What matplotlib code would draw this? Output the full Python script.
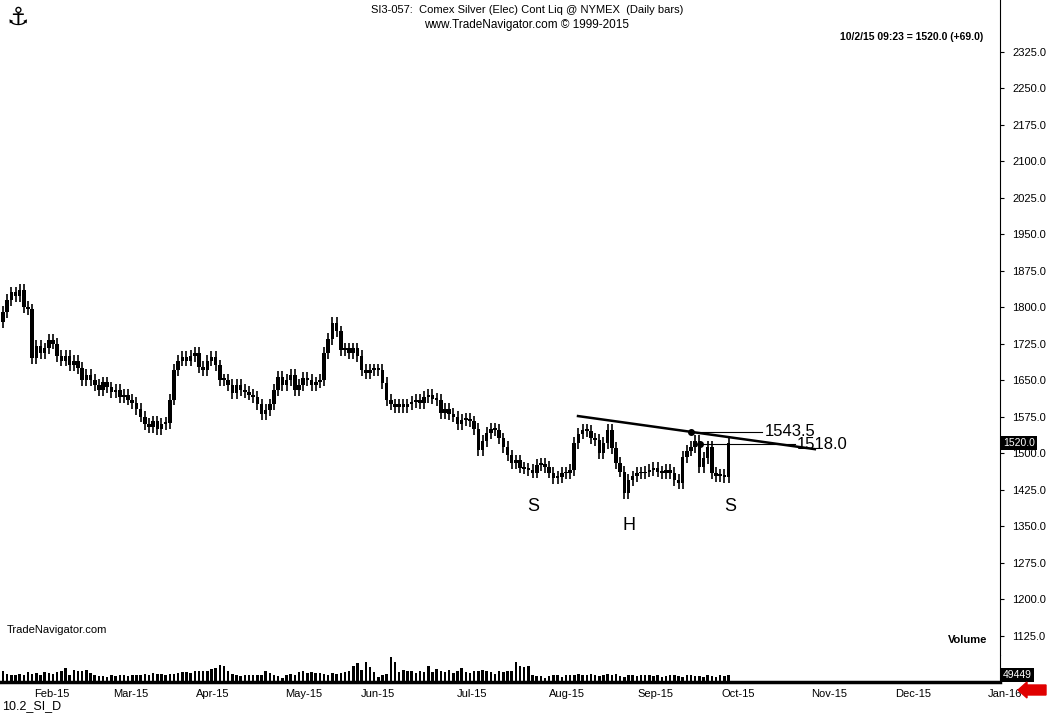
import matplotlib.pyplot as plt
from matplotlib.patches import FancyArrow

# daily closes (Jan 21 .. Oct 2 2015)
closes = [1790, 1815, 1830, 1822, 1835, 1800, 1795,
          1695, 1720, 1705, 1715, 1732,
          1725, 1700, 1690, 1700, 1680, 1690, 1675, 1650,
          1660, 1650, 1640, 1630,
          1645, 1635, 1625, 1630, 1615, 1620, 1610, 1603,
          1590, 1575, 1560, 1553,
          1565, 1550, 1560, 1562,
          1610, 1670, 1690, 1697,
          1690, 1700, 1705, 1677,
          1670, 1690, 1697,
          1680, 1650, 1650, 1640, 1623,
          1640, 1630, 1625, 1620, 1615,
          1600, 1580, 1588,
          1600, 1630, 1656,
          1640, 1650, 1660, 1630,
          1640, 1655, 1650,
          1640, 1645, 1650,
          1705, 1735, 1767,
          1750, 1712,
          1715, 1705, 1715, 1700, 1670,
          1665, 1670, 1672, 1670,
          1644, 1609,
          1600, 1595, 1600, 1595,
          1600, 1605, 1610, 1603,
          1615, 1620, 1612, 1609, 1582,
          1590, 1580, 1575, 1560, 1568,
          1570, 1565, 1550, 1506,
          1525, 1541, 1550, 1547,
          1530, 1512, 1495, 1479,
          1485, 1470, 1468, 1465,
          1460, 1475, 1478, 1471,
          1460, 1448, 1451,
          1460, 1458, 1465, 1520,
          1540, 1547,
          1545, 1530, 1527, 1500,
          1520, 1547,
          1510, 1479, 1462, 1418,
          1444, 1452, 1459,
          1458, 1462, 1465,
          1470, 1462, 1459,
          1465, 1459, 1445, 1438,
          1492, 1505, 1512,
          1525, 1471, 1490, 1512, 1459,
          1452, 1455, 1451, 1520]
opens = [1770] + closes[:-1]

# volume in thousands of contracts
volume = [14, 10, 9, 8, 10, 9, 12, 10, 11, 9, 12, 11, 10, 12, 13, 17, 9, 15, 14, 14, 15, 11, 8, 7,
          7, 6, 8, 7, 9, 8, 7, 8, 8, 9, 10, 9, 11, 10, 10, 9, 10, 10, 11, 12, 12, 11, 13, 14, 13, 14,
          16, 17, 21, 20, 14, 10, 8, 7, 8, 8, 9, 8, 9, 13, 11, 8, 7, 5, 9, 10, 9, 12, 13, 11, 12, 11,
          11, 10, 9, 11, 10, 11, 12, 14, 20, 23, 15, 24, 18, 12, 6, 8, 10, 31, 25, 12, 15, 13, 13, 11,
          14, 12, 20, 12, 16, 13, 12, 15, 11, 14, 17, 12, 11, 14, 13, 15, 13, 12, 10, 13, 12, 14, 13, 24,
          20, 18, 20, 8, 7, 7, 5, 7, 9, 8, 6, 8, 9, 8, 10, 9, 8, 10, 9, 7, 9, 10, 8, 10, 7, 6,
          9, 8, 7, 9, 8, 8, 7, 9, 6, 7, 8, 9, 7, 6, 8, 9, 7, 7, 6, 8, 7, 6, 9, 7, 8]
volume = volume[:len(closes)]

price_ticks = list(range(1125, 2326, 75))
months = ['Feb-15', 'Mar-15', 'Apr-15', 'May-15', 'Jun-15', 'Jul-15', 'Aug-15', 'Sep-15',
          'Oct-15', 'Nov-15', 'Dec-15', 'Jan-16']
month_pos = [11.8, 30.7, 50.4, 72.2, 89.9, 112.5, 135.3, 156.4, 176.3, 198.1, 218.2, 240.3]

W, H = 1054, 714
fig = plt.figure(figsize=(W / 100, H / 100), dpi=100)
plt.rcParams['font.family'] = ['Liberation Sans', 'DejaVu Sans']

XL = (-0.72, 239.1)
ax = fig.add_axes([0, 1 - 655 / H, 1000 / W, 655 / H])
vax = fig.add_axes([0, 1 - 682 / H, 1000 / W, 27 / H])

for i, (o, c) in enumerate(zip(opens, closes)):
    hi = max(o, c) + 12
    lo = min(o, c) - 12
    ax.plot([i, i], [lo, hi], color='black', lw=1.2, solid_capstyle='butt')
    body = max(abs(c - o), 4)
    ax.bar(i, body, bottom=min(o, c), width=0.85, color='black')
ax.set_xlim(*XL)
ax.set_ylim(1085, 2431)
ax.set_xticks([])
ax.yaxis.tick_right()
ax.set_yticks(price_ticks)
ax.set_yticklabels([f'{p:.1f}' for p in price_ticks], fontsize=8)
ax.tick_params(axis='y', length=3, pad=6)
for s in ['top', 'left', 'bottom']:
    ax.spines[s].set_visible(False)

# neckline and levels
ax.plot([137.9, 194.7], [1576, 1508], color='black', lw=1.8)
ax.plot([165.1, 182], [1543.5, 1543.5], color='black', lw=0.8)
ax.plot([167.1, 190], [1518, 1518], color='black', lw=0.8)
ax.plot([165.1, 167.1], [1543.5, 1518], 'o', color='black', ms=4)
ax.text(182.7, 1543.5, '1543.5', fontsize=12, va='center')
ax.text(190.4, 1518, '1518.0', fontsize=12, va='center')
ax.text(127.1, 1391, 'S', fontsize=13, ha='center', va='center')
ax.text(150.1, 1352, 'H', fontsize=13, ha='center', va='center')
ax.text(174.3, 1391, 'S', fontsize=13, ha='center', va='center')
ax.text(1, 1130, 'TradeNavigator.com', fontsize=8)
ax.text(236, 1110, 'Volume', fontsize=8, fontweight='bold', ha='right')
ax.text(1.003, (1520 - 1085) / (2431 - 1085), '1520.0', transform=ax.transAxes, fontsize=7.5,
        color='white', va='center', bbox=dict(facecolor='black', edgecolor='none', pad=1.5))

vax.bar(range(len(volume)), volume, width=0.6, color='black')
vax.set_xlim(*XL)
vax.set_ylim(0, 33)
vax.set_yticks([])
vax.set_xticks([])
for s in ['top', 'left']:
    vax.spines[s].set_visible(False)
vax.spines['bottom'].set_linewidth(2.5)
vax.text(1.003, 0.25, '49449', transform=vax.transAxes, fontsize=7.5, color='white', va='center',
         bbox=dict(facecolor='black', edgecolor='none', pad=1.5))
for lab, p in zip(months, month_pos):
    vax.text(p, -0.25, lab, fontsize=8, ha='center', va='top',
             transform=vax.get_xaxis_transform(), clip_on=False)

fig.text(0.5, 1 - 10 / H, 'SI3-057:  Comex Silver (Elec) Cont Liq @ NYMEX  (Daily bars)',
         fontsize=8, ha='center', va='center')
fig.text(0.5, 1 - 25 / H, 'www.TradeNavigator.com © 1999-2015', fontsize=8.5, ha='center', va='center')
fig.text(912 / W, 1 - 37 / H, '10/2/15 09:23 = 1520.0 (+69.0)', fontsize=7.5, fontweight='bold',
         ha='center', va='center')
fig.text(2 / W, 1 - 706 / H, '10.2_SI_D', fontsize=9, va='center')
fig.text(18 / W, 1 - 18 / H, '⚓', fontsize=18, ha='center', va='center', family=['DejaVu Sans'])
fig.patches.append(FancyArrow(1046 / W, 1 - 690 / H, -28 / W, 0, width=10 / H, head_width=16 / H,
                              head_length=9 / W, color='#e00000', transform=fig.transFigure,
                              length_includes_head=True))

fig.savefig('out.png', dpi=100)
